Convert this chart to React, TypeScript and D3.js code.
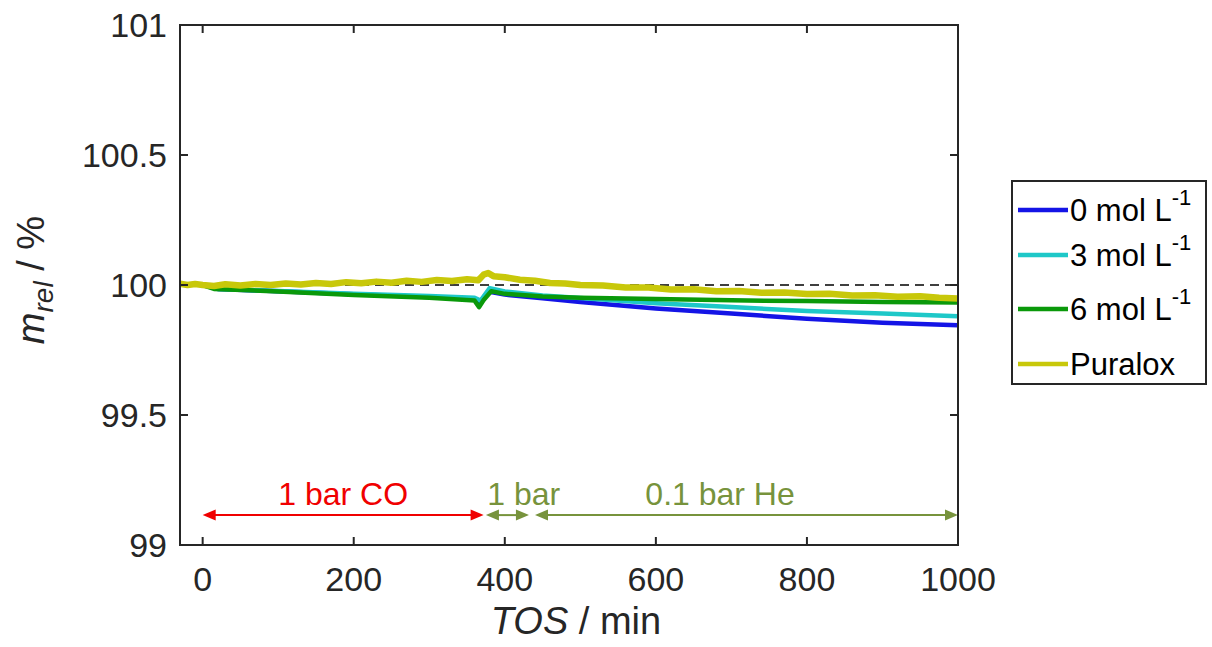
import React from "react";
import * as d3 from "d3";

type P = [number, number];

const xTicks = [0, 200, 400, 600, 800, 1000];
const yTicks = [99, 99.5, 100, 100.5, 101];
const yTickLabels = ["99", "99.5", "100", "100.5", "101"];

const seriesNames = ["0 mol L", "3 mol L", "6 mol L", "Puralox"];
const seriesSup = ["-1", "-1", "-1", ""];
const seriesColors = ["#1414E6", "#1EC8C8", "#0A990A", "#C8C80A"];
const seriesWidths = [4.5, 4.5, 4.5, 6.5];

const blue: P[] = [
  [0, 100], [20, 99.985], [100, 99.976], [200, 99.964], [300, 99.954], [360, 99.946],
  [368, 99.937], [378, 99.975], [400, 99.963], [450, 99.949], [500, 99.935], [600, 99.91],
  [700, 99.89], [800, 99.87], [900, 99.855], [1000, 99.845],
];
const cyan: P[] = [
  [0, 100], [20, 99.985], [100, 99.977], [200, 99.966], [300, 99.958], [360, 99.951],
  [368, 99.94], [380, 99.988], [400, 99.975], [450, 99.96], [500, 99.95], [600, 99.93],
  [700, 99.915], [800, 99.9], [900, 99.89], [1000, 99.88],
];
const green: P[] = [
  [0, 100], [15, 99.985], [100, 99.975], [200, 99.962], [300, 99.951], [360, 99.94],
  [366, 99.915], [372, 99.942], [382, 99.976], [400, 99.966], [450, 99.956], [500, 99.951],
  [600, 99.946], [700, 99.941], [800, 99.938], [900, 99.935], [1000, 99.933],
];
const yellow: P[] = [
  [-30, 100.005], [-20, 100.0], [-10, 100.004], [0, 100.0], [15, 99.996], [30, 100.003],
  [50, 99.998], [70, 100.004], [90, 100.0], [110, 100.006], [130, 100.002], [150, 100.008],
  [170, 100.004], [190, 100.011], [210, 100.007], [230, 100.013], [250, 100.009], [270, 100.016],
  [290, 100.012], [310, 100.019], [330, 100.015], [350, 100.022], [365, 100.018], [372, 100.04],
  [378, 100.046], [385, 100.034], [400, 100.03], [420, 100.02], [440, 100.016], [460, 100.008],
  [480, 100.006], [500, 100.0], [530, 99.998], [560, 99.99], [590, 99.99], [620, 99.983],
  [650, 99.984], [680, 99.976], [710, 99.977], [740, 99.97], [770, 99.971], [800, 99.965],
  [830, 99.966], [860, 99.96], [890, 99.961], [920, 99.955], [950, 99.957], [975, 99.951],
  [1000, 99.948],
];
const seriesData = [blue, cyan, green, yellow];

const phaseLabels = ["1 bar CO", "1 bar", "0.1 bar He"];
const phaseStart = [0, 375, 440];
const phaseEnd = [372, 432, 1000];
const phaseLabelX = [186, 425, 685];
const phaseColors = ["#F00000", "#77933C", "#77933C"];
const arrowY = 99.115;

const W = 1212, H = 647;
const left = 180, right = 958, top = 25, bottom = 545;
const font = "'Liberation Sans', Arial, sans-serif";

export default function App() {
  const x = d3.scaleLinear().domain([-30, 1000]).range([left, right]);
  const y = d3.scaleLinear().domain([99, 101]).range([bottom, top]);
  const line = d3.line<P>().x(d => x(d[0])).y(d => y(d[1]));
  const ax = "#262626";
  const tl = 8;

  const arrowHead = (px: number, py: number, dir: number, color: string, key: string) => (
    <path key={key} d={`M${px},${py} L${px - dir * 13},${py - 5.5} L${px - dir * 13},${py + 5.5} Z`} fill={color} />
  );

  return (
    <svg width={W} height={H} style={{ position: "absolute", left: 0, top: 0, background: "#fff" }} fontFamily={font}>
      <rect x={0} y={0} width={W} height={H} fill="#fff" />
      <line x1={x(-30)} x2={x(1000)} y1={y(100)} y2={y(100)} stroke="#000" strokeWidth={1.5} strokeDasharray="9,6" />
      {seriesData.map((d, i) => (
        <path key={i} d={line(d) || ""} fill="none" stroke={seriesColors[i]} strokeWidth={seriesWidths[i]} strokeLinejoin="round" />
      ))}
      {phaseLabels.map((lab, i) => {
        const x1 = x(phaseStart[i]), x2 = x(phaseEnd[i]), yy = y(arrowY);
        return (
          <g key={lab}>
            <line x1={x1 + 8} x2={x2 - 8} y1={yy} y2={yy} stroke={phaseColors[i]} strokeWidth={2} />
            {arrowHead(x1, yy, -1, phaseColors[i], "a")}
            {arrowHead(x2, yy, 1, phaseColors[i], "b")}
            <text x={x(phaseLabelX[i])} y={505} textAnchor="middle" fontSize={32} fill={phaseColors[i]}>{lab}</text>
          </g>
        );
      })}
      <rect x={left} y={top} width={right - left} height={bottom - top} fill="none" stroke={ax} strokeWidth={2} />
      {xTicks.map(t => (
        <g key={"x" + t}>
          <line x1={x(t)} x2={x(t)} y1={bottom} y2={bottom - tl} stroke={ax} strokeWidth={2} />
          <line x1={x(t)} x2={x(t)} y1={top} y2={top + tl} stroke={ax} strokeWidth={2} />
          <text x={x(t)} y={591} textAnchor="middle" fontSize={34} fill={ax}>{t}</text>
        </g>
      ))}
      {yTicks.map((t, i) => (
        <g key={"y" + t}>
          <line x1={left} x2={left + tl} y1={y(t)} y2={y(t)} stroke={ax} strokeWidth={2} />
          <line x1={right} x2={right - tl} y1={y(t)} y2={y(t)} stroke={ax} strokeWidth={2} />
          <text x={167} y={y(t) + 12} textAnchor="end" fontSize={34} fill={ax}>{yTickLabels[i]}</text>
        </g>
      ))}
      <text x={576} y={634} textAnchor="middle" fontSize={38} fill={ax}>
        <tspan fontStyle="italic">TOS</tspan> / min
      </text>
      <text transform={`translate(44,280) rotate(-90)`} textAnchor="middle" fontSize={38} fill={ax}>
        <tspan fontStyle="italic">m</tspan>
        <tspan fontStyle="italic" fontSize={28} dy={9}>rel</tspan>
        <tspan dy={-9}> / %</tspan>
      </text>
      <rect x={1012} y={181} width={194} height={203} fill="#fff" stroke={ax} strokeWidth={2} />
      {seriesNames.map((n, i) => {
        const ly = [210, 255, 309, 364][i];
        return (
          <g key={n}>
            <line x1={1018} x2={1068} y1={ly} y2={ly} stroke={seriesColors[i]} strokeWidth={4.5} />
            <text x={1070} y={ly + 11} fontSize={31} fill="#000">
              {n}
              {seriesSup[i] ? <tspan fontSize={22} dy={-16}>{seriesSup[i]}</tspan> : null}
            </text>
          </g>
        );
      })}
    </svg>
  );
}
